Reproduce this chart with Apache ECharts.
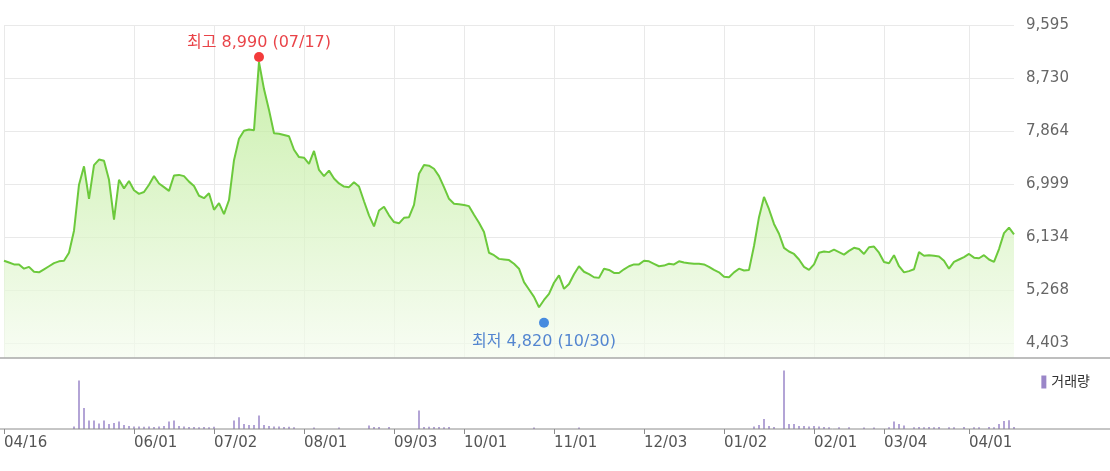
<!DOCTYPE html>
<html>
<head>
<meta charset="utf-8">
<script src="https://cdn.jsdelivr.net/npm/echarts@6/dist/echarts.min.js"></script>
<style>
html,body{margin:0;padding:0;background:#fff;}
#chart{width:1110px;height:471px;}
</style>
</head>
<body>
<div id="chart"></div>
<script>
// ---- data ----
const priceValues = [
  5750,5720,5690,5690,5620,5650,5570,5560,5610,5660,
  5710,5740,5750,5880,6240,6990,7290,6760,7310,7400,
  7380,7070,6420,7070,6930,7050,6900,6840,6870,6990,
  7130,7010,6950,6890,7140,7150,7130,7040,6970,6810,
  6770,6850,6580,6690,6510,6740,7390,7740,7870,7890,
  7880,8990,8550,8210,7830,7820,7800,7780,7560,7440,
  7430,7330,7540,7230,7130,7220,7090,7010,6960,6950,
  7030,6960,6720,6490,6310,6570,6630,6490,6380,6360,
  6450,6460,6660,7170,7310,7300,7250,7130,6950,6760,
  6680,6670,6660,6640,6500,6370,6220,5880,5840,5780,
  5770,5760,5700,5620,5400,5280,5160,4990,5110,5210,
  5390,5510,5290,5370,5530,5660,5570,5530,5480,5470,
  5620,5600,5550,5550,5610,5660,5690,5690,5750,5740,
  5700,5660,5670,5700,5690,5740,5720,5710,5700,5700,
  5690,5650,5600,5560,5490,5480,5560,5620,5590,5600,
  5990,6460,6790,6590,6350,6190,5960,5900,5860,5770,
  5650,5600,5690,5880,5900,5890,5930,5890,5850,5910,
  5960,5940,5860,5970,5980,5880,5730,5710,5840,5660,
  5560,5580,5610,5890,5830,5840,5830,5820,5750,5620,
  5730,5770,5810,5860,5800,5790,5840,5770,5730,5940,
  6200,6290,6180
];
const volumeValues = [
  0,0,0,0,0,0,0,0,0,0,
  0,0,0,0,130,2420,1050,420,420,280,
  420,250,300,370,200,150,120,130,110,120,
  100,130,150,370,420,150,130,100,100,90,
  100,90,110,0,0,0,420,580,250,200,
  200,670,200,150,130,130,100,110,90,0,
  0,0,80,0,0,0,0,80,0,0,
  0,0,0,170,100,100,0,100,0,0,
  0,0,0,920,100,110,100,100,90,100,
  0,0,0,0,0,0,0,0,0,0,
  0,0,0,0,0,0,80,0,0,0,
  0,0,0,0,0,80,0,0,0,0,
  0,0,0,0,0,0,0,0,0,0,
  0,0,0,0,0,0,0,0,0,0,
  0,0,0,0,0,0,0,0,0,0,
  130,200,500,150,100,0,2920,250,250,150,
  150,130,150,120,100,90,0,90,0,90,
  0,0,80,0,80,0,0,90,380,250,
  170,0,90,100,90,100,90,100,0,90,
  90,0,100,0,90,90,0,100,90,250,
  400,440,100
];
const dateTickLabels = ['04/16','06/01','07/02','08/01','09/03','10/01','11/01','12/03','01/02','02/01','03/04','04/01'];
const dateTickIndex  = [0,26,42,60,78,92,110,128,144,162,176,193];
const priceTickValues = [4403,5268,6134,6999,7864,8730,9595];
const highPoint = [51, 8990, '07/17'];
const lowPoint  = [108, 4820, '10/30'];
const volumeName = '거래량';

// ---- chart ----
const categories = priceValues.map((_, i) => String(i));
const tickSet = new Set(dateTickIndex);
const tickLabelMap = {};
dateTickIndex.forEach((idx, k) => { tickLabelMap[idx] = dateTickLabels[k]; });
const fmt = v => Number(v).toLocaleString('en-US');
const FONT = "'DejaVu Sans', 'Noto Sans CJK KR', sans-serif";

const chart = echarts.init(document.getElementById('chart'), null, {renderer: 'canvas'});
chart.setOption({
  animation: false,
  backgroundColor: '#ffffff',
  textStyle: {fontFamily: FONT},
  legend: {
    data: [volumeName],
    right: 15, top: 370,
    icon: 'rect', itemWidth: 5, itemHeight: 13,
    selectedMode: false,
    textStyle: {fontFamily: FONT, fontSize: 14, color: '#333'}
  },
  grid: [
    {left: 4, right: 96, top: 25, bottom: 113},
    {left: 4, right: 96, top: 358, bottom: 42}
  ],
  xAxis: [
    {
      type: 'category', gridIndex: 0, data: categories, boundaryGap: false,
      axisLine: {show: false}, axisTick: {show: false}, axisLabel: {show: false},
      splitLine: {show: true, interval: (i) => tickSet.has(i), lineStyle: {color: '#e9e9e9', width: 1}}
    },
    {
      type: 'category', gridIndex: 1, data: categories, boundaryGap: false,
      axisLine: {show: false},
      axisTick: {show: true, interval: (i) => tickSet.has(i), length: 5, lineStyle: {color: '#8c8c8c'}},
      axisLabel: {
        show: true, interval: (i) => tickSet.has(i), align: 'left', margin: 7,
        fontFamily: FONT, fontSize: 15, color: '#555',
        formatter: (v, i) => tickLabelMap[i] || ''
      },
      splitLine: {show: false}
    }
  ],
  yAxis: [
    {
      type: 'value', gridIndex: 0, position: 'right',
      min: 4163, max: 9595,
      axisLine: {show: false},
      axisTick: {show: false, customValues: priceTickValues},
      axisLabel: {customValues: priceTickValues, margin: 12, fontFamily: FONT, fontSize: 15, color: '#666', formatter: v => fmt(v)},
      splitLine: {show: true, lineStyle: {color: '#e9e9e9', width: 1}}
    },
    {
      type: 'value', gridIndex: 1, min: 0, max: 3540, show: false,
      splitLine: {show: false}
    }
  ],
  graphic: [
    {type: 'line', z: 100, shape: {x1: 0, y1: 358, x2: 1110, y2: 358}, style: {stroke: '#a8a8a8', lineWidth: 1.5}},
    {type: 'line', z: 100, shape: {x1: 0, y1: 429, x2: 1110, y2: 429}, style: {stroke: '#8c8c8c', lineWidth: 1}}
  ],
  series: [
    {
      name: '주가', type: 'line', xAxisIndex: 0, yAxisIndex: 0,
      data: priceValues, symbol: 'none', smooth: false,
      lineStyle: {color: '#6cc93c', width: 2},
      itemStyle: {color: '#6cc93c'},
      areaStyle: {
        color: new echarts.graphic.LinearGradient(0, 0, 0, 1, [
          {offset: 0, color: '#b4e98a'},
          {offset: 1, color: '#f5fcef'}
        ])
      },
      z: 2
    },
    {
      name: 'high', type: 'scatter', xAxisIndex: 0, yAxisIndex: 0,
      data: [[highPoint[0], highPoint[1]]],
      symbol: 'circle', symbolSize: 10, symbolOffset: [0, -5],
      itemStyle: {color: '#f00a0a'},
      label: {
        show: true, position: 'top', distance: 1,
        fontFamily: FONT, fontSize: 16, color: '#e3141a',
        formatter: () => '최고 ' + fmt(highPoint[1]) + ' (' + highPoint[2] + ')'
      },
      z: 5
    },
    {
      name: 'low', type: 'scatter', xAxisIndex: 0, yAxisIndex: 0,
      data: [[lowPoint[0], lowPoint[1]]],
      symbol: 'circle', symbolSize: 10, symbolOffset: [0, 5],
      itemStyle: {color: '#1b6fdc'},
      label: {
        show: true, position: 'bottom', distance: 6,
        fontFamily: FONT, fontSize: 16, color: '#2a68c8',
        formatter: () => '최저 ' + fmt(lowPoint[1]) + ' (' + lowPoint[2] + ')'
      },
      z: 5
    },
    {
      name: volumeName, type: 'bar', xAxisIndex: 1, yAxisIndex: 1,
      data: volumeValues, barWidth: 1.5,
      itemStyle: {color: '#9a86c8'}
    }
  ]
});
</script>
</body>
</html>
